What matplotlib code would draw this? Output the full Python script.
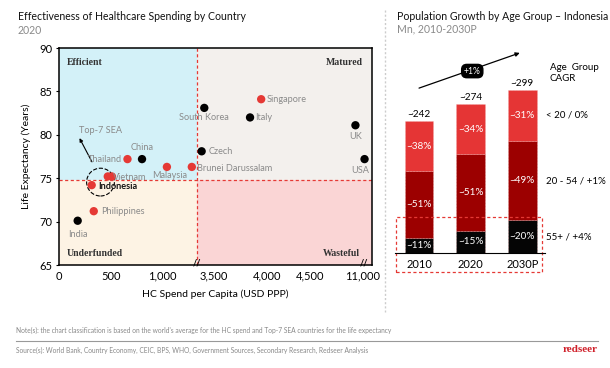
import numpy as np
import matplotlib
matplotlib.use('Agg')
import matplotlib.pyplot as plt
from matplotlib.patches import Rectangle

plt.rcParams['font.family'] = ['Lato', 'DejaVu Sans']

# ---------------- data ----------------
countries = ['India', 'Philippines', 'Indonesia', 'Vietnam', '', 'Thailand', 'China',
             'Malaysia', 'Brunei Darussalam', 'Czech', 'South Korea', 'Italy',
             'Singapore', 'UK', 'USA']
spend = [180, 335, 315, 470, 510, 660, 800, 1040, 1280, 3360, 3390, 3840, 3945, 5010, 11070]
life_exp = [70.1, 71.2, 74.2, 75.2, 75.2, 77.2, 77.2, 76.3, 76.3, 78.1, 83.1, 82.0,
            84.1, 81.1, 77.2]
is_sea = [False, True, True, True, True, True, False, True, True, False, False, False,
          True, False, False]
world_avg_spend = 1330
sea_life_exp = 74.85
x_ticks = [0, 500, 1000, 3500, 4000, 4500, 11000]
x_tick_labels = ['0', '500', '1,000', '3,500', '4,000', '4,500', '11,000']
y_ticks = [65, 70, 75, 80, 85, 90]

years = ['2010', '2020', '2030P']
totals = [242, 274, 299]
share_55 = [11, 15, 20]
share_20_54 = [51, 51, 49]
share_u20 = [38, 34, 31]
group_labels = ['< 20 / 0%', '20 - 54 / +1%', '55+ / +4%']

# ---------------- figure ----------------
W, H = 610, 368
fig = plt.figure(figsize=(W / 100, H / 100), dpi=100)

def fx(px):
    return px / W

def fy(py):
    return 1 - py / H

# ---------- left scatter ----------
ax = fig.add_axes([fx(59), fy(265), (372 - 59) / W, (265 - 48) / H])
knots_x = [0, 1330, 3330, 3500, 4000, 4500, 5050, 10930, 11300]
knots_p = [0, 138, 140, 155, 208, 251, 300, 301, 313]

def fwd(x):
    return np.interp(x, knots_x, knots_p)

def inv(p):
    return np.interp(p, knots_p, knots_x)

ax.set_xscale('function', functions=(fwd, inv))
ax.set_xlim(0, 11300)
ax.set_ylim(65, 90)

c_eff, c_mat, c_und, c_was = '#d3f1f8', '#f3f0ed', '#fdf3e4', '#fad5d5'
ax.fill_between([0, world_avg_spend], sea_life_exp, 90, color=c_eff, lw=0, zorder=0)
ax.fill_between([world_avg_spend, 11300], sea_life_exp, 90, color=c_mat, lw=0, zorder=0)
ax.fill_between([0, world_avg_spend], 65, sea_life_exp, color=c_und, lw=0, zorder=0)
ax.fill_between([world_avg_spend, 11300], 65, sea_life_exp, color=c_was, lw=0, zorder=0)
ax.axvline(world_avg_spend, color='#e53935', ls=(0, (2.5, 2)), lw=0.9, zorder=1)
ax.axhline(sea_life_exp, color='#e53935', ls=(0, (2.5, 2)), lw=0.9, zorder=1)

cols = ['#e53935' if s else 'black' for s in is_sea]
ax.scatter(spend, life_exp, s=36, c=cols, zorder=4, linewidths=0)

# label placement: (dx, dy in points, ha, va)
place = {
    'India': (0, -7, 'center', 'top'),
    'Philippines': (5, 0, 'left', 'center'),
    'Indonesia': (5, -1, 'left', 'center'),
    'Vietnam': (4, -1, 'left', 'center'),
    'Thailand': (-4, 0, 'right', 'center'),
    'China': (0, 5, 'center', 'bottom'),
    'Malaysia': (2, -3, 'center', 'top'),
    'Brunei Darussalam': (4, -1, 'left', 'center'),
    'Czech': (5, 0, 'left', 'center'),
    'South Korea': (0, -4, 'center', 'top'),
    'Italy': (4, 0, 'left', 'center'),
    'Singapore': (4, 0, 'left', 'center'),
    'UK': (0, -5, 'center', 'top'),
    'USA': (-3, -5, 'center', 'top'),
}
for name, xv, yv in zip(countries, spend, life_exp):
    if not name:
        continue
    dx, dy, ha, va = place[name]
    bold = name == 'Indonesia'
    ax.annotate(name, (xv, yv), xytext=(dx, dy), textcoords='offset points',
                ha=ha, va=va, fontsize=6.6,
                color='#111111' if bold else '#8a8a8a',
                fontweight='bold' if bold else 'normal', zorder=5)

# dashed circle around Top-7 SEA cluster
ax.scatter([400], [74.55], s=400, facecolors='none', edgecolors='black',
           linestyles='--', linewidths=0.8, zorder=3)
ax.annotate('Top-7 SEA', xy=(185, 80.2), xytext=(190, 80.55), fontsize=6.6,
            color='#8a8a8a', ha='left', va='center')
ax.annotate('', xy=(185, 79.9), xytext=(330, 76.6),
            arrowprops=dict(arrowstyle='-|>', color='black', lw=0.8,
                            mutation_scale=5))

serif = ['Liberation Serif', 'DejaVu Serif']
ax.text(0.025, 0.955, 'Efficient', transform=ax.transAxes, fontsize=7,
        fontweight='bold', family=serif, color='#333333', va='top')
ax.text(0.97, 0.955, 'Matured', transform=ax.transAxes, fontsize=7,
        fontweight='bold', family=serif, color='#333333', va='top', ha='right')
ax.text(0.025, 0.03, 'Underfunded', transform=ax.transAxes, fontsize=7,
        fontweight='bold', family=serif, color='#333333', va='bottom')
ax.text(0.96, 0.03, 'Wasteful', transform=ax.transAxes, fontsize=7,
        fontweight='bold', family=serif, color='#333333', va='bottom', ha='right')

ax.set_xticks(x_ticks)
ax.set_xticklabels(x_tick_labels)
ax.set_yticks(y_ticks)
ax.tick_params(labelsize=8, length=2.5, width=0.8, color='black', pad=2)
ax.tick_params(axis='x', length=0, pad=4)
for sp in ax.spines.values():
    sp.set_linewidth(1.1)
ax.set_xlabel('HC Spend per Capita (USD PPP)', fontsize=7.5, labelpad=6)
ax.set_ylabel('Life Expectancy (Years)', fontsize=7.5, labelpad=6)
for bx in (world_avg_spend, 11060):
    ax.text(bx, 65.2, '//', ha='center', va='center', fontsize=6.5,
            fontweight='bold', clip_on=False, zorder=6)

# ---------- right stacked bars ----------
ax2 = fig.add_axes([fx(395), fy(253), 150 / W, 213 / H])
xpos = np.arange(len(years))
v55 = np.array(totals) * np.array(share_55) / 100
v2054 = np.array(totals) * np.array(share_20_54) / 100
vu20 = np.array(totals) * np.array(share_u20) / 100
bw = 0.55
kw = dict(width=bw, edgecolor='#f4b0b0', linewidth=0.4, linestyle=':')
ax2.bar(xpos, v55, color='#050505', **kw)
ax2.bar(xpos, v2054, bottom=v55, color='#9c0000', **kw)
ax2.bar(xpos, vu20, bottom=v55 + v2054, color='#e53535', **kw)
for i in range(len(years)):
    ax2.text(xpos[i], v55[i] / 2, f'~{share_55[i]}%', ha='center', va='center',
             color='white', fontsize=7.2)
    ax2.text(xpos[i], v55[i] + v2054[i] / 2, f'~{share_20_54[i]}%', ha='center',
             va='center', color='white', fontsize=7.2)
    ax2.text(xpos[i], v55[i] + v2054[i] + vu20[i] / 2, f'~{share_u20[i]}%',
             ha='center', va='center', color='white', fontsize=7.2)
    ax2.text(xpos[i], totals[i] + 4, f'~{totals[i]}', ha='center', va='bottom',
             fontsize=7.2, color='black')

ax2.set_xlim(-0.464, 2.437)
ax2.set_ylim(0, 391)
ax2.set_yticks([])
ax2.set_xticks(xpos)
ax2.set_xticklabels(years, fontsize=8)
ax2.tick_params(axis='x', length=0, pad=4)
for s in ['top', 'right', 'left']:
    ax2.spines[s].set_visible(False)
ax2.spines['bottom'].set_linewidth(0.8)

# dashed box around 55+ segment
ax2.add_patch(Rectangle((-0.45, -35), 2.83, 101, fill=False, ec='#e53935',
                        ls=(0, (2.5, 2)), lw=0.9, clip_on=False))

# group labels at 2030P segment centres
last = len(years) - 1
ys = [v55[last] + v2054[last] + vu20[last] / 2, v55[last] + v2054[last] / 2, v55[last] / 2]
for lab, yv in zip(group_labels, ys):
    ax2.text(2.46, yv, lab, ha='left', va='center', fontsize=7, clip_on=False)
ax2.text(2.53, 330, 'Age  Group\nCAGR', ha='left', va='center', fontsize=7,
         linespacing=1.35, clip_on=False)

# CAGR arrow
ax2.annotate('', xy=(2.0, 369), xytext=(-0.05, 301),
             arrowprops=dict(arrowstyle='-|>', color='black', lw=0.9,
                             mutation_scale=6), annotation_clip=False)
ax2.text(1.03, 334, '+1%', ha='center', va='center', fontsize=6.2, color='white',
         bbox=dict(boxstyle='round,pad=0.25,rounding_size=0.6', fc='black', ec='black'))

# ---------- titles & footer ----------
fig.text(fx(18), fy(16), 'Effectiveness of Healthcare Spending by Country',
         fontsize=7.6, va='center', color='#111111')
fig.text(fx(18), fy(30), '2020', fontsize=7.6, va='center', color='#8a8a8a')
fig.text(fx(397), fy(16), 'Population Growth by Age Group – Indonesia',
         fontsize=7.6, va='center', color='#111111')
fig.text(fx(397), fy(29), 'Mn, 2010-2030P', fontsize=7.6, va='center', color='#8a8a8a')

fig.add_artist(plt.Line2D([fx(385), fx(385)], [fy(10), fy(312)], color='#cccccc',
                          lw=1, ls=(0, (1.5, 1.5))))
fig.text(fx(16), fy(330), "Note(s): the chart classification is based on the world's "
         "average for the HC spend and Top-7 SEA countries for the life expectancy",
         fontsize=4.8, va='center', color='#888888')
fig.add_artist(plt.Line2D([fx(16), fx(598)], [fy(341), fy(341)], color='#999999', lw=0.8))
fig.text(fx(16), fy(350), 'Source(s): World Bank, Country Economy, CEIC, BPS, WHO, '
         'Government Sources, Secondary Research, Redseer Analysis',
         fontsize=4.8, va='center', color='#888888')
fig.text(fx(598), fy(350), 'redseer', fontsize=8, va='center', ha='right',
         color='#d0202a', fontweight='bold', family=serif)

fig.savefig('out.png', dpi=100)
